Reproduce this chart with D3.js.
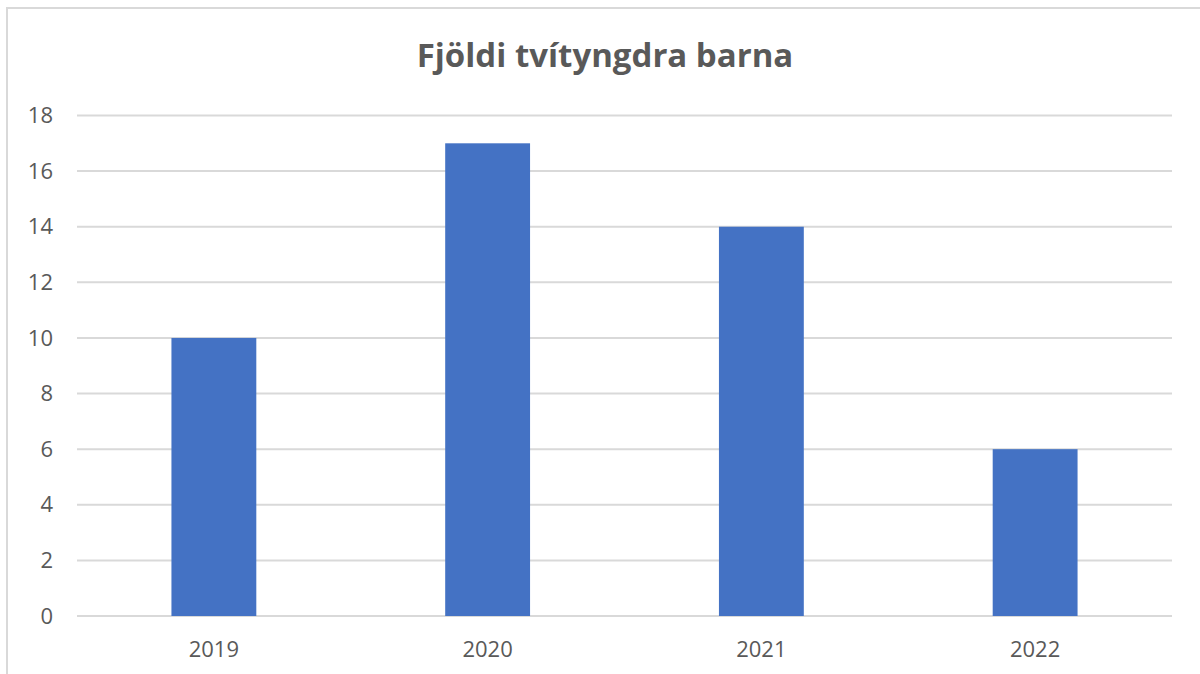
<!DOCTYPE html>
<html>
<head>
<meta charset="utf-8">
<script src="https://cdn.jsdelivr.net/npm/d3@7"></script>
<style>
  body { margin: 0; background: #fff; }
  text { font-family: "Open Sans", sans-serif; fill: #595959; }
</style>
</head>
<body>
<script>
var width = 1200,
    height = 674;

var years = ['2019', '2020', '2021', '2022'];
var counts = [10, 17, 14, 6];
var yTicks = [0, 2, 4, 6, 8, 10, 12, 14, 16, 18];

var svg = d3.select('body')
  .append('svg')
    .attr('width', width)
    .attr('height', height)

// chart frame (left and top edge only visible)
svg.append('path')
    .attr('d', 'M7,674 V8 H1200')
    .attr('fill', 'none')
    .attr('stroke', '#d9d9d9')
    .attr('stroke-width', 2)

var x = d3.scaleBand()
    .domain(years)
    .range([77, 1172])

var y = d3.scaleLinear()
    .domain([0, 18])
    .range([616, 115.5])

// gridlines
svg.selectAll('line.grid')
    .data(yTicks).enter()
  .append('line')
    .attr('class', 'grid')
    .attr('x1', 77)
    .attr('x2', 1172)
    .attr('y1', function(d){ return y(d); })
    .attr('y2', function(d){ return y(d); })
    .attr('stroke', '#d9d9d9')
    .attr('stroke-width', 2)

var barW = x.bandwidth() * 0.31;

svg.selectAll('rect.bar')
    .data(counts).enter()
  .append('rect')
    .attr('class', 'bar')
    .attr('x', function(d, i){ return x(years[i]) + (x.bandwidth() - barW) / 2; })
    .attr('width', barW)
    .attr('y', function(d){ return y(d); })
    .attr('height', function(d){ return y(0) - y(d); })
    .attr('fill', '#4472c4')

// y labels
svg.selectAll('text.ylab')
    .data(yTicks).enter()
  .append('text')
    .attr('class', 'ylab')
    .attr('x', 53)
    .attr('y', function(d){ return y(d); })
    .attr('dy', '0.35em')
    .attr('text-anchor', 'end')
    .attr('font-size', 22)
    .text(function(d){ return d; })

// x labels
svg.selectAll('text.xlab')
    .data(years).enter()
  .append('text')
    .attr('class', 'xlab')
    .attr('x', function(d){ return x(d) + x.bandwidth() / 2; })
    .attr('y', 657)
    .attr('text-anchor', 'middle')
    .attr('font-size', 22)
    .text(function(d){ return d; })

svg.append('text')
    .attr('x', 605)
    .attr('y', 67)
    .attr('text-anchor', 'middle')
    .attr('font-size', 33)
    .attr('font-weight', 'bold')
    .text('Fjöldi tvítyngdra barna')
</script>
</body>
</html>
